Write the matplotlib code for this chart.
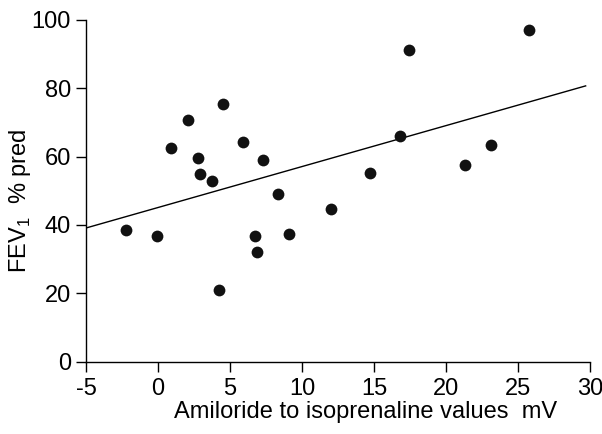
import matplotlib
matplotlib.use("Agg")
import matplotlib.pyplot as plt
import numpy as np

# amiloride-to-isoprenaline response (mV) vs FEV1 % predicted
amiloride_mv = [-2.2, -0.1, 0.9, 2.1, 2.8, 2.9, 3.75, 4.5, 4.2, 5.9, 7.3, 6.7, 6.9, 8.3, 9.1,
                12.0, 14.7, 16.8, 17.4, 21.3, 23.1, 25.8]
fev1_pred = [38.5, 36.7, 62.5, 70.7, 59.5, 54.9, 52.8, 75.3, 21.0, 64.3, 58.9, 36.7, 32.0, 49.0, 37.3,
             44.7, 55.2, 66.0, 91.1, 57.6, 63.4, 97.0]
# regression line end points
fit_x = [-5, 29.7]
fit_y = [39.1, 80.7]

xticks = [-5, 0, 5, 10, 15, 20, 25, 30]
yticks = [0, 20, 40, 60, 80, 100]

plt.rcParams['font.family'] = ['Liberation Sans Narrow', 'Liberation Sans', 'DejaVu Sans']
plt.rcParams['axes.unicode_minus'] = False

fig = plt.figure(figsize=(6.02, 4.34), dpi=100)
ax = fig.add_axes([0.143, 0.167, 0.837, 0.787])

ax.plot(fit_x, fit_y, color='black', lw=1.0)
ax.scatter(amiloride_mv, fev1_pred, s=72, color='#111111', zorder=3, linewidths=0)

ax.set_xlim(-5, 30)
ax.set_ylim(0, 100)
ax.set_xticks(xticks)
ax.set_yticks(yticks)
ax.tick_params(direction='out', length=7, width=1, labelsize=17)
ax.tick_params(axis='y', pad=4)
ax.tick_params(axis='x', pad=5)
for s in ['top', 'right']:
    ax.spines[s].set_visible(False)
for s in ['left', 'bottom']:
    ax.spines[s].set_linewidth(1)

ax.set_xlabel('Amiloride to isoprenaline values  mV', fontsize=17)
ax.set_ylabel('FEV$_\\mathregular{1}$  % pred', fontsize=17)
ax.xaxis.set_label_coords(0.555, -0.115)
ax.yaxis.set_label_coords(-0.105, 0.47)

fig.savefig('out.png', dpi=100)
